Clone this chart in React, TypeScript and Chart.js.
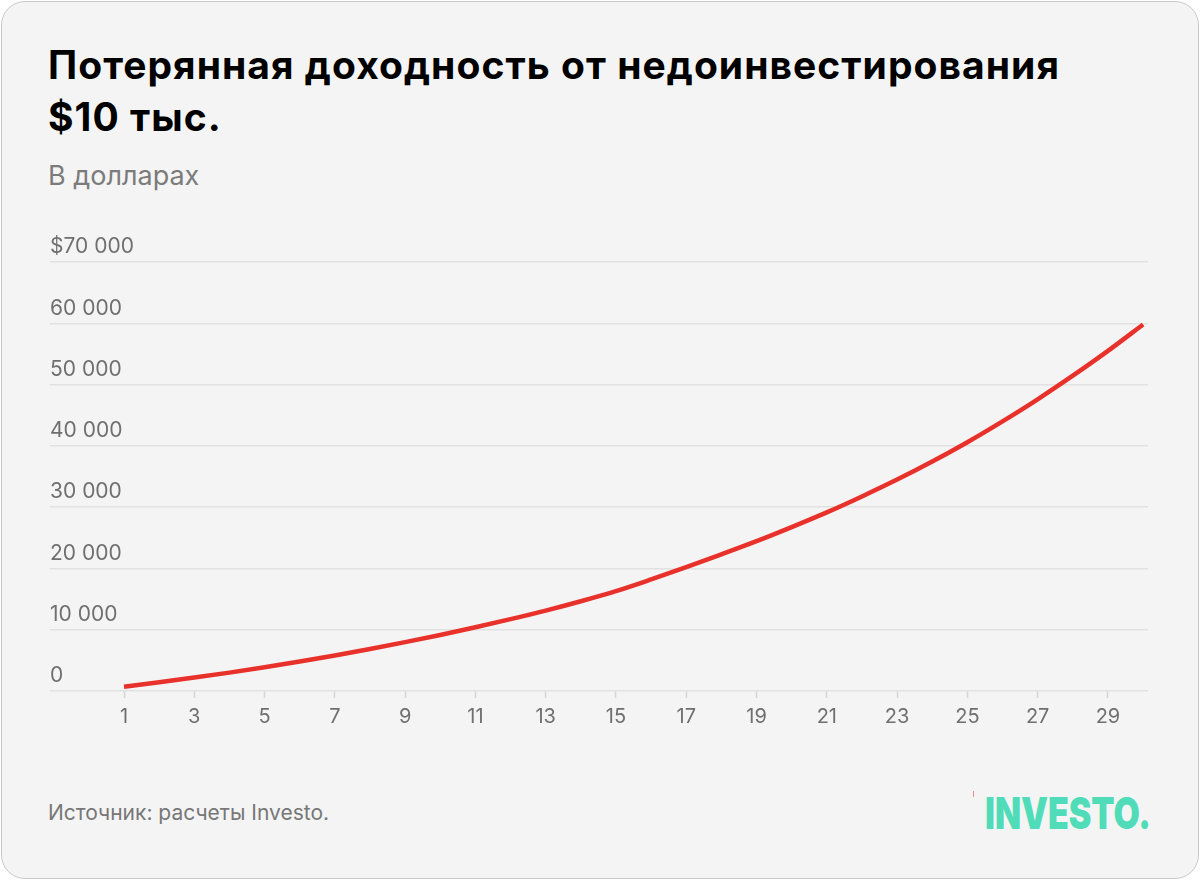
import React, { useEffect, useRef } from 'react';
import { Chart, registerables } from 'chart.js';

Chart.register(...registerables);

const titleLines = ['Потерянная доходность от недоинвестирования', '$10 тыс.'];
const subtitle = 'В долларах';
const sourceText = 'Источник: расчеты Investo.';
const logoText = 'INVESTO.';

const years = [1, 2, 3, 4, 5, 6, 7, 8, 9, 10, 11, 12, 13, 14, 15, 16, 17, 18, 19, 20, 21, 22, 23, 24, 25, 26, 27, 28, 29, 30];
const lostReturn = [
  700, 1420, 2190, 3000, 3870, 4800, 5790, 6850, 7970, 9150,
  10400, 11720, 13120, 14650, 16300, 18200, 20200, 22300, 24450, 26750,
  29150, 31750, 34500, 37450, 40600, 44000, 47600, 51450, 55500, 59800,
];
const xTickValues = [1, 3, 5, 7, 9, 11, 13, 15, 17, 19, 21, 23, 25, 27, 29];
const yTickValues = [0, 10000, 20000, 30000, 40000, 50000, 60000, 70000];
const yTickLabels = ['0', '10 000', '20 000', '30 000', '40 000', '50 000', '60 000', '$70 000'];

const FONT = 'Inter, "Noto Sans", Roboto, sans-serif';

export default function App() {
  const canvasRef = useRef<HTMLCanvasElement | null>(null);
  const logoRef = useRef<HTMLSpanElement | null>(null);
  const titleRef = useRef<HTMLDivElement | null>(null);

  useEffect(() => {
    document.body.style.margin = '0';
    document.body.style.overflow = 'hidden';
    if (logoRef.current) {
      const w = logoRef.current.getBoundingClientRect().width;
      if (w > 0) logoRef.current.style.transform = `scaleX(${166 / w})`;
    }
    const canvas = canvasRef.current;
    if (!canvas) return;
    const chart = new Chart(canvas, {
      type: 'line',
      data: {
        datasets: [
          {
            data: years.map((y, i) => ({ x: y, y: lostReturn[i] })),
            borderColor: '#e8312a',
            borderWidth: 4.5,
            pointRadius: 0,
            pointHoverRadius: 0,
            fill: false,
            cubicInterpolationMode: 'monotone',
            borderCapStyle: 'butt',
          },
        ],
      },
      options: {
        animation: false,
        responsive: false,
        devicePixelRatio: 1,
        events: [],
        layout: { padding: { left: 50, right: 52, top: 32, bottom: 4 } },
        plugins: { legend: { display: false }, tooltip: { enabled: false } },
        scales: {
          x: {
            type: 'linear',
            min: -1.106,
            max: 30.14,
            afterBuildTicks: (axis: any) => {
              axis.ticks = xTickValues.map((v) => ({ value: v }));
            },
            grid: {
              display: true,
              drawOnChartArea: false,
              drawTicks: true,
              tickLength: 7,
              tickColor: '#d6d6d6',
              tickWidth: 1.5,
            },
            border: { display: false },
            ticks: {
              autoSkip: false,
              maxRotation: 0,
              padding: 7,
              color: '#6f6f6f',
              font: { family: FONT, size: 20 },
              callback: (v: any) => String(v),
            },
          },
          y: {
            min: 0,
            max: 70000,
            afterBuildTicks: (axis: any) => {
              axis.ticks = yTickValues.map((v) => ({ value: v }));
            },
            grid: {
              color: '#e1e1e1',
              lineWidth: 1.5,
              drawTicks: false,
            },
            border: { display: false },
            ticks: {
              mirror: true,
              padding: 0,
              labelOffset: -15,
              color: '#6f6f6f',
              font: { family: FONT, size: 21 },
              callback: (v: any) => {
                const idx = yTickValues.indexOf(Number(v));
                return idx >= 0 ? yTickLabels[idx] : '';
              },
            },
          },
        },
      },
    });
    return () => chart.destroy();
  }, []);

  return (
    <div style={{ position: 'absolute', left: 0, top: 0, width: 1200, height: 880, overflow: 'hidden', fontFamily: FONT }}>
      <div
        style={{
          position: 'absolute',
          left: 1,
          top: 1,
          width: 1198,
          height: 878,
          boxSizing: 'border-box',
          border: '1px solid #c9c9c9',
          borderRadius: 24,
          background: '#f4f4f4',
        }}
      />
      <div
        ref={titleRef}
        style={{
          position: 'absolute',
          left: 48,
          top: 39,
          fontSize: 39,
          lineHeight: '52px',
          fontWeight: 700,
          letterSpacing: '1.05px',
          color: '#000',
          whiteSpace: 'nowrap',
        }}
      >
        {titleLines.map((t) => (
          <div key={t}>{t}</div>
        ))}
      </div>
      <div
        style={{
          position: 'absolute',
          left: 48,
          top: 160,
          fontSize: 27,
          lineHeight: '32px',
          color: '#7b7b7b',
          whiteSpace: 'nowrap',
        }}
      >
        {subtitle}
      </div>
      <div style={{ position: 'absolute', left: 0, top: 230, width: 1200, height: 510 }}>
        <canvas ref={canvasRef} width={1200} height={510} style={{ width: 1200, height: 510, display: 'block' }} />
      </div>
      <div
        style={{
          position: 'absolute',
          left: 48,
          top: 799,
          fontSize: 21,
          lineHeight: '28px',
          color: '#777',
          whiteSpace: 'nowrap',
        }}
      >
        {sourceText}
      </div>
      <div style={{ position: 'absolute', left: 973, top: 791, width: 1, height: 6, background: '#ee8a8a' }} />
      <div
        style={{
          position: 'absolute',
          left: 985,
          top: 783,
          fontSize: 44,
          lineHeight: '60px',
          fontWeight: 900,
          color: '#50dcb8',
          whiteSpace: 'nowrap',
        }}
      >
        <span ref={logoRef} style={{ display: 'inline-block', transformOrigin: 'left center' }}>
          {logoText}
        </span>
      </div>
    </div>
  );
}
